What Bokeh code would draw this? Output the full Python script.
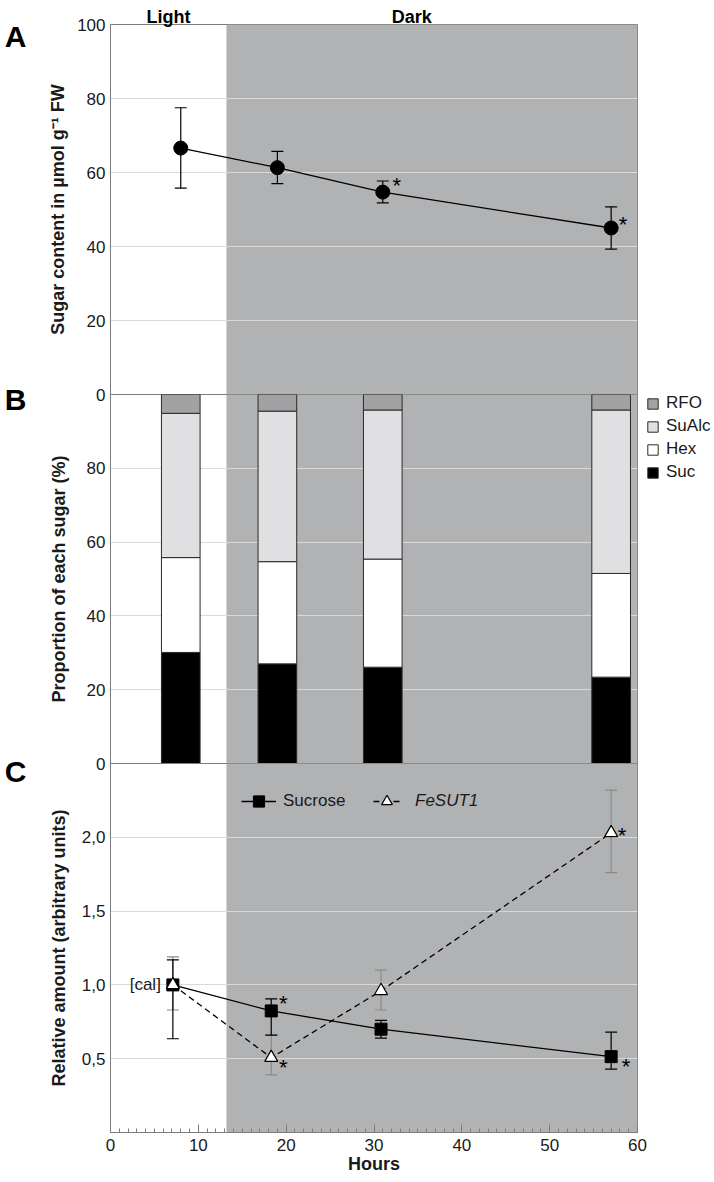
from bokeh.plotting import figure
from bokeh.models import (ColumnDataSource, Whisker, TeeHead, BoxAnnotation,
                          Legend, LegendItem, FixedTicker, SingleIntervalTicker,
                          CustomJSTickFormatter, Range1d, LinearAxis)
from bokeh.layouts import column
from bokeh.core.properties import value
from bokeh.embed import file_html
from bokeh.resources import INLINE

# ---------------- data ----------------
x_min, x_max = 0, 60
dark_start = 13.2                      # lights off (hours)
period_labels = ["Light", "Dark"]
period_label_hours = [6.6, 34.3]

# Panel A: total sugar content (umol g-1 FW)
sugar_hours = [8, 19, 31, 57]
sugar_total = [66.6, 61.3, 54.7, 45.0]
sugar_lower = [55.8, 57.0, 51.8, 39.3]
sugar_upper = [77.5, 65.7, 57.7, 50.7]
sugar_star = [False, False, True, True]

# Panel B: proportion of each sugar (%)
bar_hours = [8, 19, 31, 57]
sugar_classes = ["Suc", "Hex", "SuAlc", "RFO"]
suc_pct = [30.1, 27.0, 26.1, 23.4]
hex_pct = [25.7, 27.7, 29.3, 28.1]
sualc_pct = [39.1, 40.8, 40.4, 44.3]
rfo_pct = [5.1, 4.5, 4.2, 4.2]

# Panel C: relative amount (arbitrary units)
expr_hours = [7.1, 18.3, 30.8, 57.0]
sucrose_rel = [1.0, 0.824, 0.70, 0.514]
sucrose_lower = [0.635, 0.66, 0.64, 0.43]
sucrose_upper = [1.17, 0.905, 0.76, 0.68]
sucrose_star = [False, True, False, True]
fesut1_rel = [1.0, 0.507, 0.96, 2.03]
fesut1_lower = [0.83, 0.39, 0.83, 1.76]
fesut1_upper = [1.19, 0.66, 1.10, 2.32]
fesut1_star = [False, True, False, True]
calibrator_label = "[cal]"

a_ticks = [0, 20, 40, 60, 80, 100]
b_ticks = [0, 20, 40, 60, 80]
c_ticks = [0.5, 1.0, 1.5, 2.0]
a_range = (0, 100)
b_range = (0, 100)
c_range = (0, 2.5)
panel_letters = ["A", "B", "C"]

# ---------------- styles ----------------
FONT = "Liberation Sans"
DARK = "#b1b2b4"
GRID = "#d9d9d9"
FRAME = "#7d7d7d"
TXT = "#1a1a1a"
GRAYBAR = "#8a8a8a"
FRAME_W = 527
LEFT, RIGHT = 110, 76
bar_width = 4.4
letter_pos = [96.8, 98.6, 2.446]       # vertical anchor of panel letters (layout)
LETTER_STANDOFF = 19

shared_x = Range1d(x_min, x_max)


def make_fig(yr, frame_h, top, bottom, with_x=False, styles=None):
    kw = dict(x_range=shared_x, y_range=Range1d(*yr), frame_width=FRAME_W, frame_height=frame_h,
              min_border_left=LEFT, min_border_right=RIGHT, min_border_top=top,
              min_border_bottom=bottom, toolbar_location=None, output_backend="svg",
              x_axis_location="below" if with_x else None,
              border_fill_color=None, outline_line_color=FRAME, outline_line_width=1)
    if styles:
        kw["styles"] = styles
    p = figure(**kw)
    p.xgrid.visible = False
    p.ygrid.grid_line_color = GRID
    p.ygrid.grid_line_width = 1
    p.add_layout(BoxAnnotation(left=dark_start, right=x_max, fill_color=DARK, fill_alpha=1,
                               line_color=None, level="image"))
    return p


def style_y(p, ticks, label, standoff):
    ax = p.yaxis[0]
    ax.ticker = FixedTicker(ticks=ticks)
    ax.axis_label = label
    ax.axis_label_text_font = FONT
    ax.axis_label_text_font_style = "bold"
    ax.axis_label_text_font_size = "18px"
    ax.axis_label_text_color = TXT
    ax.axis_label_standoff = standoff
    ax.major_label_text_font = FONT
    ax.major_label_text_font_size = "17px"
    ax.major_label_text_color = TXT
    ax.major_label_standoff = 5
    ax.major_tick_in = 0
    ax.major_tick_out = 0
    ax.minor_tick_in = 0
    ax.minor_tick_out = 0
    ax.major_tick_line_color = None
    ax.minor_tick_line_color = None
    ax.axis_line_color = FRAME


def text_axis(ticks, labels, size, standoff):
    return LinearAxis(ticker=FixedTicker(ticks=ticks),
                      major_label_overrides=dict(zip(ticks, labels)),
                      axis_line_color=None, major_tick_line_color=None,
                      minor_tick_line_color=None, major_tick_in=0, major_tick_out=0,
                      minor_tick_in=0, minor_tick_out=0, major_label_standoff=standoff,
                      major_label_text_font=FONT, major_label_text_font_style="bold",
                      major_label_text_font_size=size, major_label_text_color="black")


def add_stars(p, xs, ys, flags, dx, dy):
    idx = [i for i, f in enumerate(flags) if f]
    p.text(x=[xs[i] for i in idx], y=[ys[i] for i in idx], text=["*"] * len(idx),
           x_offset=dx, y_offset=dy, text_font=value(FONT), text_font_size="22px",
           text_color="black", text_align="center", text_baseline="middle")


# ---------------- panel A ----------------
pA = make_fig(a_range, 370, 24, 12)
style_y(pA, a_ticks, "Sugar content in \u00b5mol g\u207b\u00b9 FW", 6)
pA.add_layout(text_axis([letter_pos[0]], [panel_letters[0]], "30px", LETTER_STANDOFF), "left")
pA.add_layout(text_axis(period_label_hours, period_labels, "18px", -2), "above")
srcA = ColumnDataSource(dict(x=sugar_hours, y=sugar_total, lower=sugar_lower, upper=sugar_upper))
pA.add_layout(Whisker(source=srcA, base="x", upper="upper", lower="lower", line_color="black",
                      line_width=1.2,
                      upper_head=TeeHead(size=12, line_color="black", line_width=1.2),
                      lower_head=TeeHead(size=12, line_color="black", line_width=1.2)))
pA.line("x", "y", source=srcA, line_color="black", line_width=1.3)
pA.scatter("x", "y", source=srcA, marker="circle", size=14, fill_color="black", line_color="black")
add_stars(pA, sugar_hours, sugar_total, sugar_star, [14, 12], [-7, -4])

# ---------------- panel B ----------------
pB = make_fig(b_range, 369, 24, 12, styles={"margin-top": "-36px"})
style_y(pB, b_ticks, "Proportion of each sugar (%)", 15)
pB.add_layout(text_axis([letter_pos[1]], [panel_letters[1]], "30px", LETTER_STANDOFF), "left")
srcB = ColumnDataSource(dict(hours=bar_hours, Suc=suc_pct, Hex=hex_pct, SuAlc=sualc_pct, RFO=rfo_pct))
bars = pB.vbar_stack(sugar_classes, x="hours", width=bar_width, source=srcB,
                     fill_color=["#000000", "#ffffff", "#e0e0e2", "#a2a2a4"],
                     line_color="#2a2a2a", line_width=1)
itemsB = [LegendItem(label=name, renderers=[r]) for name, r in zip(sugar_classes, bars)][::-1]
pB.add_layout(Legend(items=itemsB, location=(9, 281), orientation="vertical", padding=0,
                     margin=0, spacing=3, glyph_width=13, glyph_height=13, label_height=20,
                     label_standoff=7, label_text_font=FONT, label_text_font_size="17px",
                     label_text_color=TXT, border_line_color=None, background_fill_alpha=0),
              "right")

# ---------------- panel C ----------------
pC = make_fig(c_range, 369, 24, 49, with_x=True, styles={"margin-top": "-36px"})
style_y(pC, c_ticks, "Relative amount (arbitrary units)", 10)
pC.yaxis[0].formatter = CustomJSTickFormatter(code="return tick.toFixed(1).replace('.', ',');")
pC.add_layout(text_axis([letter_pos[2]], [panel_letters[2]], "30px", LETTER_STANDOFF), "left")
xa = pC.xaxis[0]
xa.ticker = SingleIntervalTicker(interval=10, num_minor_ticks=10)
xa.major_tick_in = 8
xa.major_tick_out = 0
xa.minor_tick_in = 4
xa.minor_tick_out = 0
xa.major_tick_line_color = FRAME
xa.minor_tick_line_color = FRAME
xa.axis_line_color = FRAME
xa.major_label_text_font = FONT
xa.major_label_text_font_size = "17px"
xa.major_label_text_color = TXT
xa.major_label_standoff = 6
xa.axis_label = "Hours"
xa.axis_label_text_font = FONT
xa.axis_label_text_font_style = "bold"
xa.axis_label_text_font_size = "18px"
xa.axis_label_text_color = TXT
xa.axis_label_standoff = 0

srcS = ColumnDataSource(dict(x=expr_hours, y=sucrose_rel, lower=sucrose_lower, upper=sucrose_upper))
srcF = ColumnDataSource(dict(x=expr_hours, y=fesut1_rel, lower=fesut1_lower, upper=fesut1_upper))
pC.add_layout(Whisker(source=srcF, base="x", upper="upper", lower="lower", line_color=GRAYBAR,
                      line_width=1.2,
                      upper_head=TeeHead(size=12, line_color=GRAYBAR, line_width=1.2),
                      lower_head=TeeHead(size=12, line_color=GRAYBAR, line_width=1.2)))
pC.add_layout(Whisker(source=srcS, base="x", upper="upper", lower="lower", line_color="black",
                      line_width=1.2,
                      upper_head=TeeHead(size=12, line_color="black", line_width=1.2),
                      lower_head=TeeHead(size=12, line_color="black", line_width=1.2)))
fe_line = pC.line("x", "y", source=srcF, line_color="black", line_width=1.3, line_dash="6 4")
suc_line = pC.line("x", "y", source=srcS, line_color="black", line_width=1.3)
suc_pts = pC.scatter("x", "y", source=srcS, marker="square", size=12, fill_color="black",
                     line_color="black")
fe_pts = pC.scatter("x", "y", source=srcF, marker="triangle", size=13, fill_color="white",
                    line_color="black", line_width=1.2)
add_stars(pC, expr_hours, sucrose_rel, sucrose_star, [12, 15], [-7, 10])
add_stars(pC, expr_hours, fesut1_rel, fesut1_star, [12, 11], [10, 3])
pC.text(x=[expr_hours[0]], y=[sucrose_rel[0]], text=[calibrator_label], x_offset=-12,
        text_font=value(FONT), text_font_size="17px", text_color=TXT,
        text_align="right", text_baseline="middle")

leg_common = dict(orientation="horizontal", padding=0, margin=0, glyph_height=28, label_height=28,
                  label_text_font=FONT, label_text_font_size="17px", label_text_color=TXT,
                  border_line_color=None, background_fill_alpha=0)
pC.add_layout(Legend(items=[LegendItem(label="Sucrose", renderers=[suc_line, suc_pts])],
                     location=(131, 317), glyph_width=35, label_standoff=7, **leg_common))
pC.add_layout(Legend(items=[LegendItem(label="FeSUT1", renderers=[fe_line, fe_pts])],
                     location=(263, 317), glyph_width=27, label_standoff=15,
                     label_text_font_style="italic", **leg_common))

layout = column(pA, pB, pC)
open("out.html", "w").write(file_html(layout, INLINE))
